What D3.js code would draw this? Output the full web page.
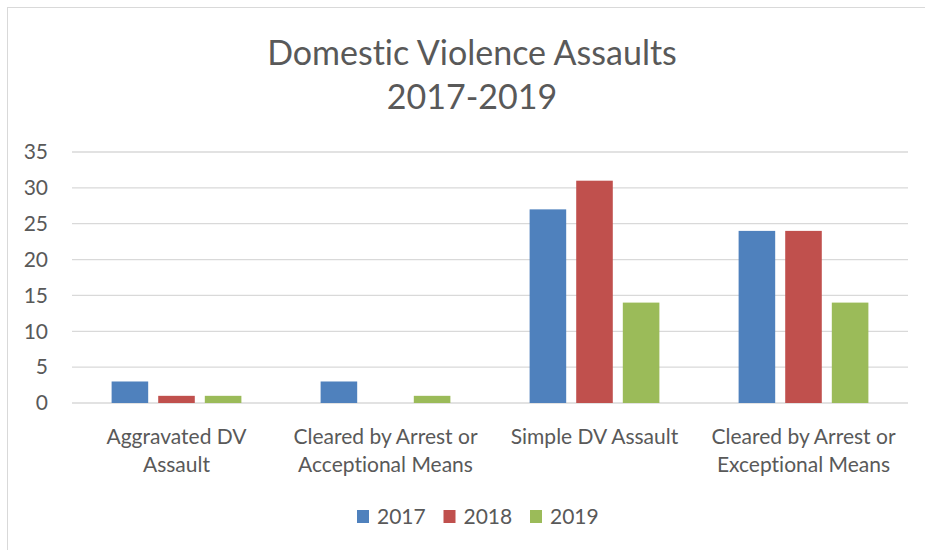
<!DOCTYPE html>
<html>
<head>
<meta charset="utf-8">
<script src="https://cdn.jsdelivr.net/npm/d3@7"></script>
<style>
  body { margin: 0; background: #fff; }
  svg { font-family: Lato, "Open Sans", sans-serif; font-variant-ligatures: none; }
</style>
</head>
<body>
<svg class="chart"></svg>
<script>
var categories = [
  ["Aggravated DV", "Assault"],
  ["Cleared by Arrest or", "Acceptional Means"],
  ["Simple DV Assault"],
  ["Cleared by Arrest or", "Exceptional Means"]
];
var years = ["2017", "2018", "2019"];
var values2017 = [3, 3, 27, 24];
var values2018 = [1, 0, 31, 24];
var values2019 = [1, 1, 14, 14];
var yTicks = [0, 5, 10, 15, 20, 25, 30, 35];
var colors = ["#4F81BD", "#C0504D", "#9BBB59"];

var series = [values2017, values2018, values2019];

var W = 925, H = 550;
var margin = { top: 152, right: 17, bottom: 147, left: 72 },
  width = W - margin.left - margin.right,
  height = H - margin.top - margin.bottom;

var root = d3.select(".chart")
  .attr("width", W)
  .attr("height", H);

// outer frame
root.append("rect")
  .attr("x", 7.5).attr("y", 7.5)
  .attr("width", W).attr("height", H)
  .attr("fill", "none")
  .attr("stroke", "#d9d9d9")
  .attr("stroke-width", 1);

var title = root.append("text")
  .attr("text-anchor", "middle")
  .attr("fill", "#595959")
  .style("font-size", "34px");
title.append("tspan").attr("x", 472).attr("y", 65).text("Domestic Violence Assaults");
title.append("tspan").attr("x", 472).attr("y", 109).text("2017-2019");

var svg = root.append("g")
  .attr("transform", "translate(" + margin.left + "," + margin.top + ")");

var x = d3.scaleBand()
  .domain(d3.range(categories.length))
  .range([0, width]);
var x1 = d3.scaleBand()
  .domain(years)
  .range([0, x.bandwidth()])
  .paddingInner(0.215)
  .paddingOuter(0.85);
var y = d3.scaleLinear()
  .domain([0, 35])
  .range([height, 0]);

// gridlines
svg.append("g")
  .attr("class", "grid")
  .selectAll("line")
  .data(yTicks)
  .enter().append("line")
    .attr("x1", 0).attr("x2", width)
    .attr("y1", function(d) { return y(d); })
    .attr("y2", function(d) { return y(d); })
    .attr("stroke", "#d9d9d9")
    .attr("stroke-width", 1.3);

var yAxis = d3.axisLeft(y)
  .tickValues(yTicks)
  .tickSize(0)
  .tickPadding(24);
svg.append("g")
  .attr("class", "y axis")
  .call(yAxis)
  .call(function(g) { g.select(".domain").remove(); })
  .selectAll("text")
    .attr("fill", "#595959")
    .style("font-family", "Lato, sans-serif")
    .style("font-size", "21px");

// bars
var groups = svg.selectAll(".cat")
  .data(categories)
  .enter().append("g")
    .attr("class", "cat")
    .attr("transform", function(d, i) { return "translate(" + x(i) + ",0)"; });

groups.selectAll("rect")
  .data(function(d, i) {
    return years.map(function(yr, j) { return { year: yr, value: series[j][i], color: colors[j] }; });
  })
  .enter().append("rect")
    .attr("x", function(d) { return x1(d.year); })
    .attr("width", x1.bandwidth())
    .attr("y", function(d) { return y(d.value); })
    .attr("height", function(d) { return height - y(d.value); })
    .attr("fill", function(d) { return d.color; });

// category labels
groups.append("text")
  .attr("text-anchor", "middle")
  .attr("fill", "#595959")
  .style("font-size", "21px")
  .selectAll("tspan")
  .data(function(d) { return d; })
  .enter().append("tspan")
    .attr("x", x.bandwidth() / 2)
    .attr("y", function(d, i) { return height + 41 + i * 28; })
    .text(function(d) { return d; });

// legend
var legend = root.append("g")
  .attr("class", "legend")
  .selectAll("g")
  .data(years)
  .enter().append("g")
    .attr("transform", function(d, i) { return "translate(" + (357 + i * 86.5) + ",510)"; });
legend.append("rect")
  .attr("width", 12).attr("height", 13)
  .attr("fill", function(d, i) { return colors[i]; });
legend.append("text")
  .attr("x", 20).attr("y", 14)
  .attr("fill", "#595959")
  .style("font-size", "21px")
  .text(function(d) { return d; });
</script>
</body>
</html>
